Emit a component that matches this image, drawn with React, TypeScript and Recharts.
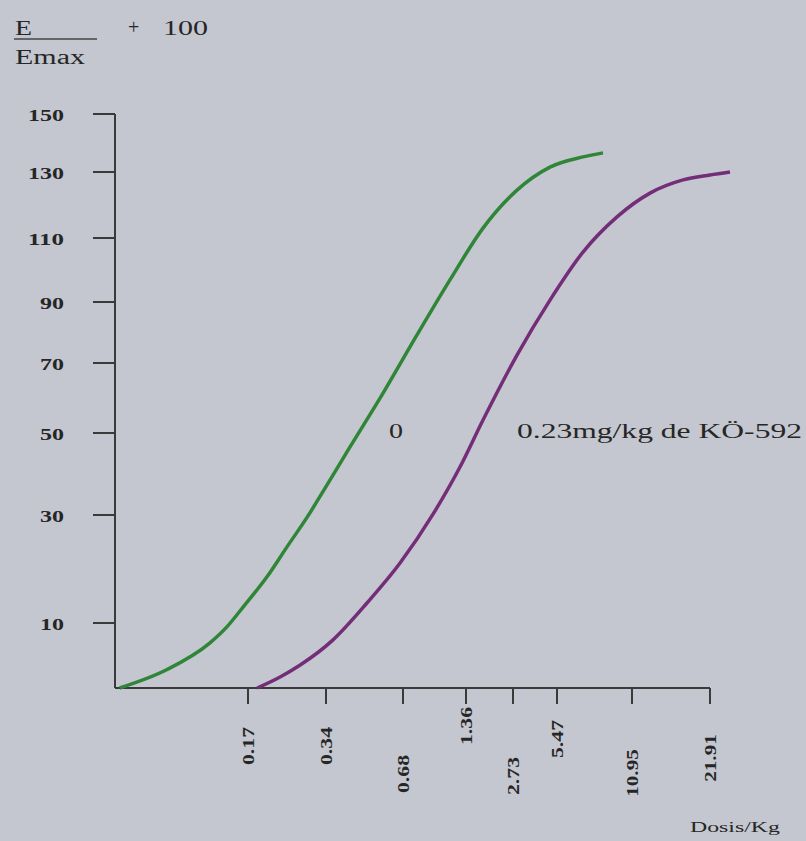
import { LineChart, Line, XAxis, YAxis, ReferenceLine } from 'recharts'

// printed tick values
const doses = [0, 0.17, 0.34, 0.68, 1.36, 2.73, 5.47, 10.95, 21.91]
const effectTicks = [0, 10, 30, 50, 70, 90, 110, 130, 150]

// the original axes are hand drawn: where each printed tick sits along its axis (px from origin)
const DOSE_POS = [0, 133, 211, 288, 351, 398, 442, 517, 595]
const EFFECT_POS = [0, 65, 173, 255, 325, 386, 450, 516, 574]

// curve "0" (control)
const controlDose = [0.006, 0.066, 0.121, 0.143, 0.164, 0.211, 0.255, 0.299, 0.344, 0.446, 0.592, 0.831, 1.187, 1.856, 2.979, 5.034, 7.37, 8.83]
const controlEffect = [0, 2.8, 6.9, 9.4, 13.0, 18.5, 24.1, 29.6, 37.3, 46.6, 61.4, 79.2, 96.9, 113.0, 124.5, 131.7, 135.2, 136.6]

// curve 0.23mg/kg de KÖ-592
const koDose = [0.19, 0.24, 0.283, 0.371, 0.521, 0.667, 1.004, 1.295, 1.856, 2.979, 5.034, 7.37, 9.854, 13.48, 18.12, 21.91, 24.72]
const koEffect = [0, 1.7, 3.5, 7.4, 13.7, 21.1, 30.2, 41.7, 53.7, 72.6, 90.6, 105.6, 116.4, 123.6, 127.6, 129.1, 130]

// vertical placement of the rotated dose labels (px below the axis), they are staggered in the print
const X_LABEL_MID = [58, 58, 86, 38, 88, 51, 85, 70]

const INK = '#262626'
const AXIS = '#3a3a3a'
const SERIF = '"Liberation Serif", "Times New Roman", serif'

function piecewise(v: number, from: number[], to: number[]) {
  let i = 0
  while (i < from.length - 2 && v > from[i + 1]) i++
  const t = (v - from[i]) / (from[i + 1] - from[i])
  return to[i] + t * (to[i + 1] - to[i])
}

const toPoints = (xs: number[], ys: number[]) =>
  xs.map((d, i) => ({
    x: piecewise(d, doses, DOSE_POS),
    y: piecewise(ys[i], effectTicks, EFFECT_POS),
  }))

const controlData = toPoints(controlDose, controlEffect)
const koData = toPoints(koDose, koEffect)

const XTick = (props: any) => {
  const { x, y, payload } = props
  const i = DOSE_POS.indexOf(payload.value)
  const label = String(doses[i])
  const cy = y - 18 + X_LABEL_MID[i - 1]
  return (
    <text
      transform={`translate(${x},${cy}) rotate(-90)`}
      textAnchor="middle"
      dominantBaseline="central"
      fontFamily={SERIF}
      fontWeight="bold"
      fontSize={17}
      fill={INK}
      textLength={label.length * 9.5}
      lengthAdjust="spacingAndGlyphs"
    >
      {label}
    </text>
  )
}

const YTick = (props: any) => {
  const { x, y, payload } = props
  const i = EFFECT_POS.indexOf(payload.value)
  const label = String(effectTicks[i])
  return (
    <text
      x={x - 27}
      y={y + 1}
      textAnchor="end"
      dominantBaseline="central"
      fontFamily={SERIF}
      fontWeight="bold"
      fontSize={16}
      fill={INK}
      textLength={label.length * 12}
      lengthAdjust="spacingAndGlyphs"
    >
      {label}
    </text>
  )
}

export default function App() {
  return (
    <div style={{ position: 'absolute', left: 0, top: 0, width: 806, height: 841, background: '#c4c7cf', overflow: 'hidden' }}>
      <LineChart width={806} height={841} data={controlData} margin={{ top: 114, right: 71, bottom: 33, left: 55 }}>
        <XAxis
          type="number"
          dataKey="x"
          domain={[0, 620]}
          ticks={DOSE_POS.slice(1)}
          tickSize={16}
          tickMargin={2}
          axisLine={false}
          tickLine={{ stroke: AXIS, strokeWidth: 2 }}
          tick={<XTick />}
          height={120}
          interval={0}
        />
        <YAxis
          type="number"
          dataKey="y"
          domain={[0, 574]}
          ticks={EFFECT_POS.slice(1)}
          tickSize={22}
          tickMargin={2}
          axisLine={{ stroke: AXIS, strokeWidth: 2 }}
          tickLine={{ stroke: AXIS, strokeWidth: 2 }}
          tick={<YTick />}
          width={60}
          interval={0}
        />
        <ReferenceLine
          segment={[{ x: 0, y: 0 }, { x: DOSE_POS[DOSE_POS.length - 1], y: 0 }]}
          stroke={AXIS}
          strokeWidth={2}
        />
        <Line data={controlData} dataKey="y" type="monotone" stroke="#2f8538" strokeWidth={3.5} dot={false} isAnimationActive={false} />
        <Line data={koData} dataKey="y" type="monotone" stroke="#742d78" strokeWidth={3.5} dot={false} isAnimationActive={false} />
      </LineChart>
      <svg width={806} height={841} style={{ position: 'absolute', left: 0, top: 0, pointerEvents: 'none' }}>
        <g fontFamily={SERIF} fill={INK}>
          <text x={15} y={35} fontSize={20} textLength={17} lengthAdjust="spacingAndGlyphs">E</text>
          <line x1={14} y1={39} x2={97} y2={39} stroke="#444" strokeWidth={1.5} />
          <text x={15} y={64} fontSize={20} textLength={70} lengthAdjust="spacingAndGlyphs">Emax</text>
          <text x={128} y={34} fontSize={20}>+</text>
          <text x={163} y={35} fontSize={20} textLength={45} lengthAdjust="spacingAndGlyphs">100</text>
          <text x={389} y={438} fontSize={20} textLength={14} lengthAdjust="spacingAndGlyphs">0</text>
          <text x={517} y={438} fontSize={20} textLength={285} lengthAdjust="spacingAndGlyphs">0.23mg/kg de KÖ-592</text>
          <text x={690} y={832} fontSize={15} textLength={90} lengthAdjust="spacingAndGlyphs">Dosis/Kg</text>
        </g>
      </svg>
    </div>
  )
}
